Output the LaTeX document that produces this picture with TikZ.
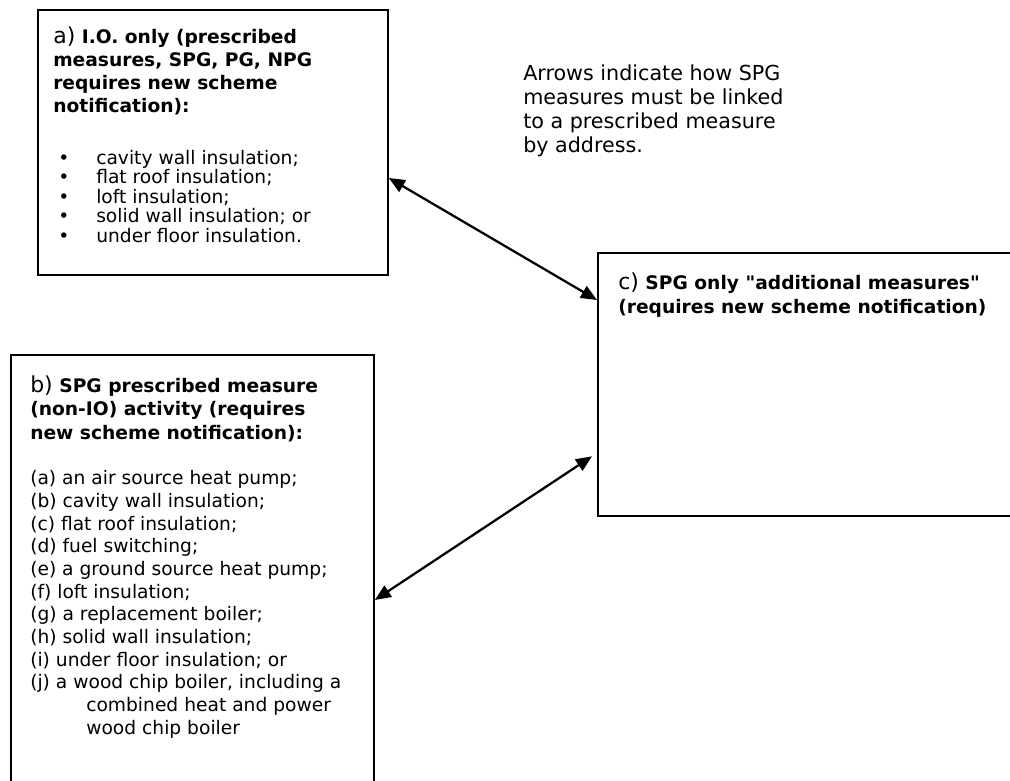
\documentclass[tikz,border=0pt]{standalone}
\usepackage{fontspec}
\setmainfont{DejaVu Sans}
\newfontfamily\plainfont{DejaVu Sans}
\usetikzlibrary{arrows.meta}

\tikzset{
  box/.style={draw, line width=1.4pt, inner sep=0pt, anchor=north west},
  link/.style={{Triangle[length=12pt,width=10pt]}-{Triangle[length=12pt,width=10pt]}, line width=1.7pt},
  txt/.style={anchor=base west, inner sep=0pt, align=left},
  body/.style={font=\fontsize{14}{#1}\selectfont},
  body/.default=17,
  head/.style={font=\fontsize{14}{17.4}\selectfont\bfseries},
}
\newcommand{\boxletter}[1]{{\fontsize{16.5}{17.4}\selectfont\mdseries #1}}
\newcommand{\bul}{\makebox[28.5pt][l]{\textbullet}}
\newcommand{\wrapin}{\hspace*{42pt}}
\newcommand{\qq}{{\plainfont"}}

\begin{document}
\begin{tikzpicture}[x=0.75pt,y=0.75pt,yscale=-1,xscale=1]
    \path[use as bounding box, clip] (0,0) rectangle (1010,781);

    %Shape: Rectangle a
    \node[box, minimum width=262.5pt, minimum height=198.75pt] (boxa) at (37,9) {};
    %Shape: Rectangle b
    \node[box, minimum width=272.25pt, minimum height=349.5pt] (boxb) at (10,354) {};
    %Shape: Rectangle c
    \node[box, minimum width=332.25pt, minimum height=197.25pt] (boxc) at (597,252) {};

    %Straight Lines a to c
    \draw[link] (boxa.east |- 0,178) -- (boxc.west |- 0,300);
    %Straight Lines b to c
    \draw[link, shorten >=4.5pt] (boxb.east |- 0,600) -- (boxc.west |- 0,453);

    % Text Node (anchored at last baseline)
    \node[txt, head] (heada) at (53,113) {\boxletter{a)} I.O. only (prescribed\\measures, SPG, PG, NPG\\requires new scheme\\notification):};
    % Text Node
    \node[txt, body=14.6] (lista) at (58,242) {\bul cavity wall insulation;\\\bul flat roof insulation;\\\bul loft insulation;\\\bul solid wall insulation; or\\\bul under floor insulation.};
    % Text Node
    \node[txt, head] (headb) at (30,439) {\boxletter{b)} SPG prescribed measure\\(non-IO) activity (requires\\new scheme notification):};
    % Text Node
    \node[txt, body] (listb) at (30,734) {(a) an air source heat pump;\\(b) cavity wall insulation;\\(c) flat roof insulation;\\(d) fuel switching;\\(e) a ground source heat pump;\\(f) loft insulation;\\(g) a replacement boiler;\\(h) solid wall insulation;\\(i) under floor insulation; or\\(j) a wood chip boiler, including a\\\wrapin combined heat and power\\\wrapin wood chip boiler};
    % Text Node
    \node[txt, head] (headc) at (618,313) {\boxletter{c)} SPG only \qq additional measures\qq\\(requires new scheme notification)};
    % Text Node
    \node[txt, font=\fontsize{15.5}{18.2}\selectfont] (note) at (523,153) {Arrows indicate how SPG\\measures must be linked\\to a prescribed measure\\by address.};
\end{tikzpicture}
\end{document}
